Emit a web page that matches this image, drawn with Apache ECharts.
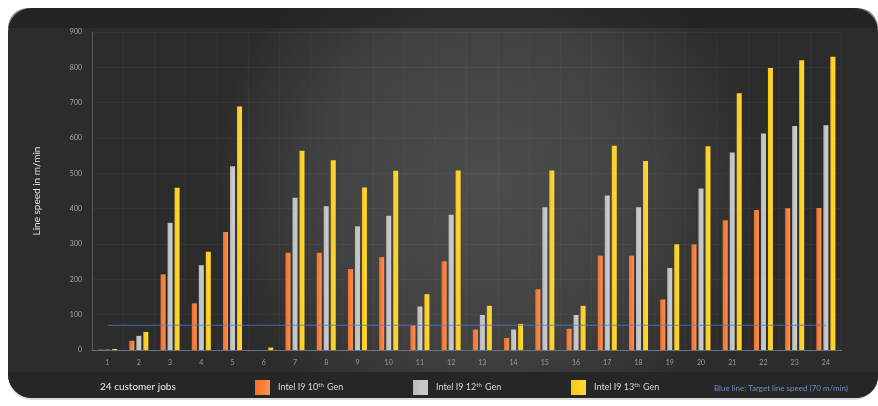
<!DOCTYPE html>
<html>
<head>
<meta charset="utf-8">
<script src="https://cdn.jsdelivr.net/npm/echarts@6/dist/echarts.min.js"></script>
<style>
  html, body { margin: 0; padding: 0; background: #ffffff; }
  #chart { width: 878px; height: 406px; }
</style>
</head>
<body>
<div id="chart"></div>
<script>
// Customer jobs 1..24
const jobs = ['1','2','3','4','5','6','7','8','9','10','11','12','13','14','15','16','17','18','19','20','21','22','23','24'];

// Line speed (m/min) per processor generation
const gen10 = [1, 26, 214, 132, 334, 0, 275, 275, 229, 263, 70, 251, 58, 34, 172, 60, 267, 267, 143, 299, 367, 396, 401, 402];
const gen12 = [1, 40, 360, 240, 520, 0, 431, 407, 350, 380, 123, 383, 99, 58, 404, 99, 437, 404, 232, 457, 559, 613, 634, 636];
const gen13 = [3, 51, 459, 278, 689, 7, 564, 537, 460, 507, 158, 508, 125, 74, 508, 125, 578, 535, 299, 577, 727, 798, 820, 830];

// Target line speed, drawn across all jobs
const targetSpeed = 70;

const yTicks = { min: 0, max: 900, interval: 100 };

const seriesNames = ['Intel I9 10th Gen', 'Intel I9 12th Gen', 'Intel I9 13th Gen'];
const seriesColors = ['#ec7430', '#b9b9b9', '#f7c51c'];
const legendLefts = [255, 413, 571];
const targetColor = '#4a7cc4';

function barFill(c) {
  return new echarts.graphic.LinearGradient(0, 0, 1, 0, [
    { offset: 0, color: c },
    { offset: 0.5, color: echarts.color.lift(c, -0.08) },
    { offset: 1, color: echarts.color.lift(c, 0.25) }
  ]);
}

const chart = echarts.init(document.getElementById('chart'), null, { renderer: 'canvas' });

const legendRich = {
  t: { color: '#d8d8d8', fontSize: 9, fontFamily: 'Lato' },
  s: { color: '#d8d8d8', fontSize: 6, fontFamily: 'Lato', verticalAlign: 'top', padding: [0, 1, 4, 0] }
};

// One legend block per series so each sits at its own slot
const legends = seriesNames.map(function (name, i) {
  return {
    left: legendLefts[i] - 5, top: 375,
    itemWidth: 15, itemHeight: 15,
    icon: 'rect',
    data: [name],
    selectedMode: false,
    textStyle: { rich: legendRich, padding: [0, 0, 0, 3] },
    formatter: function (n) {
      const m = n.match(/^(.*?)(\d+)(th)( Gen)$/);
      return '{t|' + m[1] + m[2] + '}{s|' + m[3] + '}{t|' + m[4] + '}';
    }
  };
});

const option = {
  backgroundColor: '#ffffff',
  animation: false,
  graphic: [
    {
      type: 'rect', z: -10, silent: true,
      shape: { x: 8, y: 8, width: 870, height: 392, r: [24, 24, 24, 24] },
      style: { fill: '#dcdcdc' }
    },
    {
      type: 'rect', z: -9, silent: true,
      shape: { x: 8, y: 8, width: 870, height: 390, r: [24, 24, 22, 24] },
      style: {
        fill: new echarts.graphic.RadialGradient(0.55, 0.45, 0.7, [
          { offset: 0, color: '#4d4d4d' },
          { offset: 0.6, color: '#414141' },
          { offset: 1, color: '#2c2c2c' }
        ])
      }
    },
    {
      type: 'rect', z: -8, silent: true,
      shape: { x: 8, y: 8, width: 870, height: 20, r: [24, 24, 0, 0] },
      style: { fill: 'rgba(30,30,30,0.55)' }
    },
    {
      type: 'rect', z: -8, silent: true,
      shape: { x: 8, y: 372, width: 870, height: 26, r: [0, 0, 22, 24] },
      style: { fill: '#262626' }
    },
    {
      type: 'text', left: 100, top: 382,
      style: { text: '24 customer jobs', fill: '#eeeeee', fontSize: 10, fontFamily: 'Lato' }
    },
    {
      type: 'text', left: 714, top: 384,
      style: { text: 'Blue line: Target line speed (70 m/min)', fill: '#6f8fc2', fontSize: 8, fontFamily: 'Lato' }
    }
  ],
  legend: legends,
  grid: { left: 92, right: 36.5, top: 32, bottom: 56, containLabel: false },
  xAxis: {
    type: 'category',
    data: jobs,
    axisLine: { lineStyle: { color: '#6a7380', width: 1 } },
    axisTick: { show: false },
    axisLabel: { color: '#9a9a9a', fontSize: 7, fontFamily: 'Lato', margin: 9 },
    splitLine: { show: true, lineStyle: { color: 'rgba(255,255,255,0.035)' } }
  },
  yAxis: {
    type: 'value',
    min: yTicks.min, max: yTicks.max, interval: yTicks.interval,
    name: 'Line speed in m/min',
    nameLocation: 'middle',
    nameGap: 50,
    nameTextStyle: { color: '#e6e6e6', fontSize: 10, fontFamily: 'Lato' },
    axisLine: { show: true, lineStyle: { color: '#5a5a5a' } },
    axisTick: { show: false },
    axisLabel: { color: '#aaaaaa', fontSize: 7, fontFamily: 'Lato', margin: 10 },
    splitLine: { show: true, lineStyle: { color: 'rgba(255,255,255,0.04)' } }
  },
  series: [
    {
      name: seriesNames[0], type: 'bar', data: gen10,
      barWidth: 5, barGap: '40%',
      itemStyle: { color: barFill(seriesColors[0]) }
    },
    {
      name: seriesNames[1], type: 'bar', data: gen12,
      barWidth: 5, barGap: '40%',
      itemStyle: { color: barFill(seriesColors[1]) }
    },
    {
      name: seriesNames[2], type: 'bar', data: gen13,
      barWidth: 5, barGap: '40%',
      itemStyle: { color: barFill(seriesColors[2]) }
    },
    {
      name: 'Target line speed', type: 'line',
      data: [[jobs[0], targetSpeed], [jobs[jobs.length - 1], targetSpeed]],
      showSymbol: false, symbol: 'none', silent: true, z: 5,
      lineStyle: { color: targetColor, width: 1, opacity: 0.8 },
      itemStyle: { color: targetColor }
    }
  ]
};

chart.setOption(option);
</script>
</body>
</html>
